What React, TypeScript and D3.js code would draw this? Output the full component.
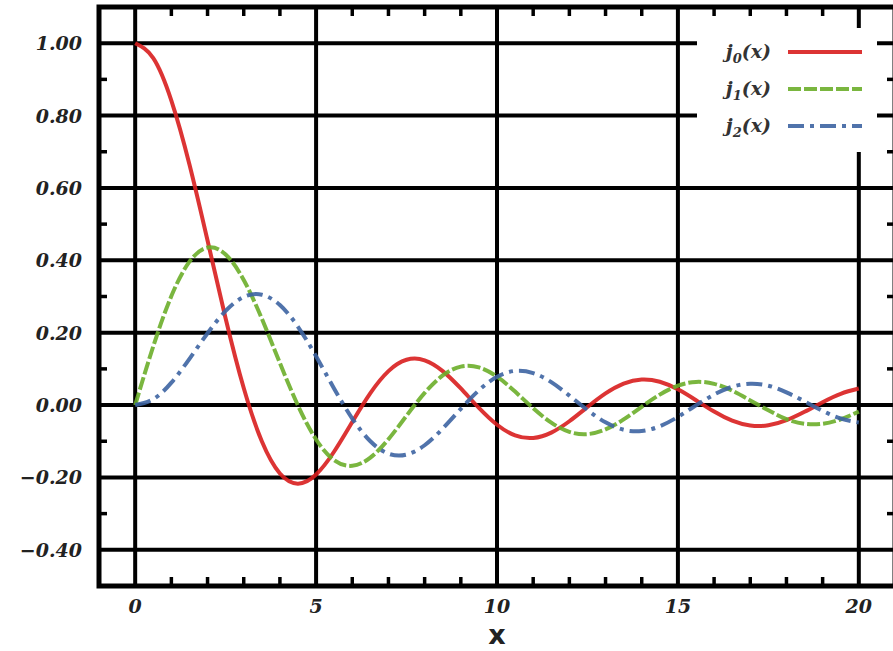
import React, { useEffect, useRef } from 'react';
import * as d3 from 'd3';

// sample positions along x
const xs = [0, 0.5, 1, 1.5, 2, 2.5, 3, 3.5, 4, 4.5, 5, 5.5, 6, 6.5, 7, 7.5, 8, 8.5, 9, 9.5, 10,
  10.5, 11, 11.5, 12, 12.5, 13, 13.5, 14, 14.5, 15, 15.5, 16, 16.5, 17, 17.5, 18, 18.5, 19, 19.5, 20];

// j0(x)
const j0 = [1, 0.9589, 0.8415, 0.665, 0.4546, 0.2394, 0.047, -0.1002, -0.1892, -0.2172, -0.1918,
  -0.1283, -0.0466, 0.0331, 0.0939, 0.1251, 0.1237, 0.0939, 0.0458, -0.0079, -0.0544,
  -0.0838, -0.0909, -0.0761, -0.0447, -0.0053, 0.0323, 0.0595, 0.0708, 0.0645, 0.0434,
  0.0133, -0.018, -0.0432, -0.0566, -0.056, -0.0417, -0.0185, 0.0079, 0.0311, 0.0456];

// j1(x)
const j1 = [0, 0.1625, 0.3012, 0.3962, 0.4354, 0.4162, 0.3457, 0.2389, 0.1161, -0.0014, -0.0951,
  -0.1522, -0.1678, -0.1452, -0.0943, -0.0295, 0.0336, 0.0819, 0.1063, 0.1041, 0.0785,
  0.0373, -0.0087, -0.0486, -0.0741, -0.0802, -0.0673, -0.0397, -0.0047, 0.0289, 0.0535,
  0.064, 0.0587, 0.0399, 0.0129, -0.0145, -0.039, -0.0518, -0.0516, -0.0392, -0.0181];

// j2(x)
const j2 = [0, 0.0164, 0.062, 0.1278, 0.1985, 0.26, 0.2987, 0.305, 0.2763, 0.2163, 0.1347,
  0.0453, -0.0373, -0.1001, -0.1343, -0.1369, -0.1111, -0.065, -0.0104, 0.0408, 0.078,
  0.0945, 0.0885, 0.0634, 0.0262, -0.0139, -0.0478, -0.0683, -0.0718, -0.0585, -0.0327,
  -0.0009, 0.029, 0.0505, 0.0589, 0.0535, 0.0352, 0.0101, -0.016, -0.0371, -0.0483];

const seriesNames = ['0', '1', '2'];
const seriesColors = ['#d81e1e', '#6cae2a', '#3d64a2'];
const seriesDash = ['none', '13,3', '16,6,4,6'];

const xTicks = [0, 5, 10, 15, 20];
const yTicks = [-0.4, -0.2, 0, 0.2, 0.4, 0.6, 0.8, 1.0];

const App = () => {
  const svgRef = useRef<SVGSVGElement>(null);

  useEffect(() => {
    const svg = d3.select(svgRef.current);
    svg.selectAll('*').remove();

    const left = 99, right = 895, top = 7, bottom = 586;
    const x = d3.scaleLinear().domain([-1, 21]).range([left, right]);
    const y = d3.scaleLinear().domain([-0.5, 1.1]).range([bottom, top]);

    const g = svg.append('g');

    // grid lines at major ticks
    g.selectAll('.gx').data(xTicks).enter().append('line')
      .attr('x1', d => x(d)).attr('x2', d => x(d))
      .attr('y1', top).attr('y2', bottom)
      .attr('stroke', '#000').attr('stroke-width', 4);
    g.selectAll('.gy').data(yTicks).enter().append('line')
      .attr('x1', left).attr('x2', right)
      .attr('y1', d => y(d)).attr('y2', d => y(d))
      .attr('stroke', '#000').attr('stroke-width', 4);

    // minor ticks
    const xMinor = d3.range(-1, 22, 1).filter(v => v % 5 !== 0);
    const yMinor = d3.range(-5, 11, 1).map(v => v / 10).filter(v => Math.abs(Math.round(v * 10)) % 2 === 1);
    xMinor.forEach(v => {
      g.append('line').attr('x1', x(v)).attr('x2', x(v)).attr('y1', bottom).attr('y2', bottom - 9)
        .attr('stroke', '#000').attr('stroke-width', 3.5);
      g.append('line').attr('x1', x(v)).attr('x2', x(v)).attr('y1', top).attr('y2', top + 9)
        .attr('stroke', '#000').attr('stroke-width', 3.5);
    });
    yMinor.forEach(v => {
      g.append('line').attr('x1', left).attr('x2', left + 8).attr('y1', y(v)).attr('y2', y(v))
        .attr('stroke', '#000').attr('stroke-width', 3.5);
      g.append('line').attr('x1', right).attr('x2', right - 8).attr('y1', y(v)).attr('y2', y(v))
        .attr('stroke', '#000').attr('stroke-width', 3.5);
    });

    // curves
    const data = [j0, j1, j2];
    const line = d3.line<number>()
      .x((_, i) => x(xs[i]))
      .y(d => y(d))
      .curve(d3.curveNatural);
    data.forEach((s, k) => {
      g.append('path')
        .attr('d', line(s))
        .attr('fill', 'none')
        .attr('stroke', seriesColors[k])
        .attr('stroke-width', 4)
        .attr('stroke-opacity', 0.9)
        .attr('stroke-dasharray', seriesDash[k]);
    });

    // legend (white box hides grid)
    g.append('rect').attr('x', 697).attr('y', 28).attr('width', 180).attr('height', 124).attr('fill', '#fff');
    seriesNames.forEach((n, k) => {
      const ly = 52 + k * 37;
      const t = g.append('text')
        .attr('x', 771).attr('y', ly + 6)
        .attr('text-anchor', 'end')
        .style('font-family', '"DejaVu Serif", serif')
        .style('font-weight', 'bold').style('font-style', 'italic')
        .style('font-size', '19px').attr('fill', '#333');
      t.append('tspan').text('j');
      t.append('tspan').attr('dy', 5).style('font-size', '13px').text(n);
      t.append('tspan').attr('dy', -5).text('(x)');
      g.append('line').attr('x1', 788).attr('x2', 862).attr('y1', ly).attr('y2', ly)
        .attr('stroke', seriesColors[k]).attr('stroke-width', 4)
        .attr('stroke-opacity', 0.9)
        .attr('stroke-dasharray', seriesDash[k]);
    });

    // frame
    g.append('rect').attr('x', left).attr('y', top).attr('width', right - left).attr('height', bottom - top)
      .attr('fill', 'none').attr('stroke', '#000').attr('stroke-width', 5);

    // tick labels
    const fmt = d3.format('.2f');
    g.selectAll('.yl').data(yTicks).enter().append('text')
      .attr('x', 82).attr('y', d => y(d) + 7)
      .attr('text-anchor', 'end')
      .style('font-family', '"DejaVu Serif", serif')
      .style('font-weight', 'bold').style('font-style', 'italic')
      .style('font-size', '19px').attr('fill', '#222')
      .text(d => fmt(d).replace('-', '\u2212'));
    g.selectAll('.xl').data(xTicks).enter().append('text')
      .attr('x', d => x(d)).attr('y', 613)
      .attr('text-anchor', 'middle')
      .style('font-family', '"DejaVu Serif", serif')
      .style('font-weight', 'bold').style('font-style', 'italic')
      .style('font-size', '19px').attr('fill', '#222')
      .text(d => String(d));

    // axis title
    g.append('text')
      .attr('x', x(10)).attr('y', 644)
      .attr('text-anchor', 'middle')
      .style('font-family', '"DejaVu Sans", sans-serif')
      .style('font-weight', 'bold')
      .style('font-size', '27px').attr('fill', '#222')
      .text('x');
  }, []);

  return (
    <svg ref={svgRef} width={893} height={651}
      style={{ position: 'absolute', left: 0, top: 0, background: '#fff' }} />
  );
};

export default App;
